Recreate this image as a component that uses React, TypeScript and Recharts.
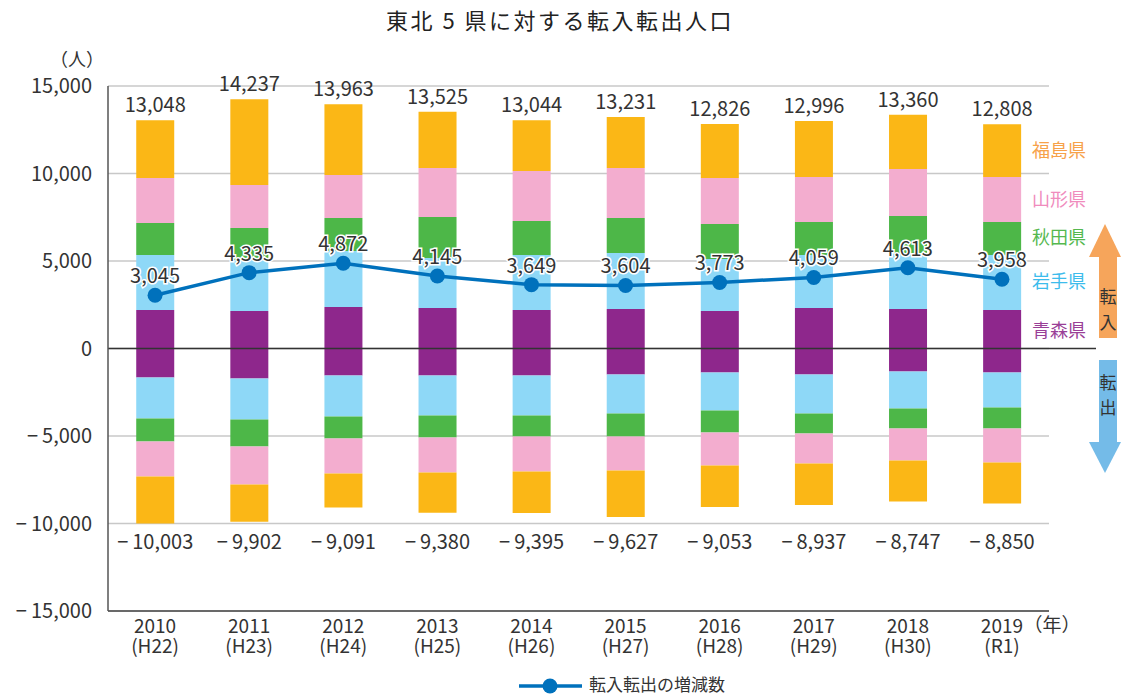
import React from 'react';
import { ComposedChart, Bar, Line, XAxis, YAxis, CartesianGrid, ReferenceLine, LabelList } from 'recharts';

const years = ['2010', '2011', '2012', '2013', '2014', '2015', '2016', '2017', '2018', '2019'];
const eras = ['(H22)', '(H23)', '(H24)', '(H25)', '(H26)', '(H27)', '(H28)', '(H29)', '(H30)', '(R1)'];

const inAomori = [2200, 2143, 2371, 2314, 2200, 2257, 2143, 2314, 2257, 2200];
const inIwate = [3143, 2914, 3200, 2857, 3143, 3200, 2971, 3029, 3200, 3143];
const inAkita = [1829, 1829, 1886, 2343, 1943, 2000, 2000, 1886, 2114, 1886];
const inYamagata = [2571, 2457, 2457, 2800, 2857, 2857, 2629, 2571, 2686, 2571];
const inFukushima = [3305, 4894, 4049, 3211, 2901, 2917, 3083, 3196, 3103, 3008];

const outAomori = [-1657, -1714, -1543, -1543, -1543, -1486, -1371, -1486, -1314, -1371];
const outIwate = [-2343, -2343, -2343, -2286, -2286, -2228, -2172, -2228, -2115, -2000];
const outAkita = [-1314, -1543, -1257, -1257, -1200, -1315, -1257, -1143, -1142, -1200];
const outYamagata = [-2000, -2171, -2000, -2000, -2000, -1942, -1886, -1714, -1829, -1943];
const outFukushima = [-2689, -2131, -1948, -2294, -2366, -2656, -2367, -2366, -2347, -2336];

const totalIn = [13048, 14237, 13963, 13525, 13044, 13231, 12826, 12996, 13360, 12808];
const totalOut = [-10003, -9902, -9091, -9380, -9395, -9627, -9053, -8937, -8747, -8850];
const netChange = [3045, 4335, 4872, 4145, 3649, 3604, 3773, 4059, 4613, 3958];

const yTicks = [-15000, -10000, -5000, 0, 5000, 10000, 15000];

const data = years.map((y, i) => ({
  year: y,
  era: eras[i],
  inAomori: inAomori[i],
  inIwate: inIwate[i],
  inAkita: inAkita[i],
  inYamagata: inYamagata[i],
  inFukushima: inFukushima[i],
  outAomori: outAomori[i],
  outIwate: outIwate[i],
  outAkita: outAkita[i],
  outYamagata: outYamagata[i],
  outFukushima: outFukushima[i],
  totalIn: totalIn[i],
  totalOut: totalOut[i],
  net: netChange[i],
}));

const W = 1121;
const H = 696;
const M = { top: 86, right: 72, bottom: 35, left: 0 };
const Y_AXIS_W = 108;
const X_AXIS_H = 50;
const PLOT_TOP = M.top;
const PLOT_H = H - M.top - M.bottom - X_AXIS_H;
const Y_MIN = -15000;
const Y_MAX = 15000;
const yPx = (v: number) => PLOT_TOP + ((Y_MAX - v) / (Y_MAX - Y_MIN)) * PLOT_H;

const FONT = "'Noto Sans CJK JP', 'Noto Sans', sans-serif";
const TXT = '#333333';

const C_AOMORI = '#8E278C';
const C_IWATE = '#8ED8F7';
const C_AKITA = '#4DB748';
const C_YAMAGATA = '#F3ADCF';
const C_FUKUSHIMA = '#FBB716';
const C_LINE = '#0071BC';

const fmt = (v: number) => (v < 0 ? '−\u2009' + Math.abs(v).toLocaleString('en-US') : v.toLocaleString('en-US'));

const TopLabel = (props: any) => {
  const { x, y, width, value } = props;
  return (
    <text x={x + width / 2} y={y - 8} textAnchor="middle" fontSize={20} fill={TXT} stroke="none" fontFamily={FONT}>
      {fmt(value)}
    </text>
  );
};

const BottomLabel = (props: any) => {
  const { x, width, value } = props;
  return (
    <text x={x + width / 2} y={yPx(-10000) + 25} textAnchor="middle" fontSize={20} fill={TXT} stroke="none" fontFamily={FONT}>
      {fmt(value)}
    </text>
  );
};

const NetLabel = (props: any) => {
  const { x, y, value } = props;
  return (
    <text
      x={x}
      y={y - 12}
      textAnchor="middle"
      fontSize={20}
      fill={TXT}
      stroke="#ffffff"
      strokeWidth={3}
      paintOrder="stroke"
      fontFamily={FONT}
    >
      {fmt(value)}
    </text>
  );
};

const renderXTick = (props: any) => {
  const { x, y, payload, index } = props;
  return (
    <g key={`xt-${index}`}>
      <text x={x} y={y + 14} textAnchor="middle" fontSize={19} fill={TXT} stroke="none" fontFamily={FONT}>
        {payload.value}
      </text>
      <text x={x} y={y + 34} textAnchor="middle" fontSize={19} fill={TXT} stroke="none" fontFamily={FONT}>
        {eras[index]}
      </text>
    </g>
  );
};

const prefLabels = [
  { name: '福島県', color: '#F7A24A', y: 157 },
  { name: '山形県', color: '#F08CBD', y: 206 },
  { name: '秋田県', color: '#55B84F', y: 244 },
  { name: '岩手県', color: '#3DBCEC', y: 288 },
  { name: '青森県', color: '#9A3F97', y: 337 },
];

export default function App() {
  return (
    <div style={{ position: 'absolute', left: 0, top: 0, width: W, height: H, background: '#fff' }}>
      <ComposedChart
        width={W}
        height={H}
        data={data}
        margin={M}
        stackOffset="sign"
        barCategoryGap="30%"
      >
        <CartesianGrid vertical={false} stroke="#c8c8c8" strokeWidth={1.5} />
        <XAxis
          dataKey="year"
          height={X_AXIS_H}
          tick={renderXTick}
          tickLine={false}
          axisLine={{ stroke: '#444', strokeWidth: 1.5 }}
          interval={0}
        />
        <YAxis
          width={Y_AXIS_W}
          domain={[Y_MIN, Y_MAX]}
          ticks={yTicks}
          tickFormatter={fmt}
          tickLine={false}
          tickMargin={10}
          axisLine={{ stroke: '#555', strokeWidth: 1.5 }}
          tick={{ fontSize: 20, fill: TXT, fontFamily: FONT }}
          interval={0}
        />
        <Bar dataKey="inAomori" stackId="s" fill={C_AOMORI} isAnimationActive={false} />
        <Bar dataKey="inIwate" stackId="s" fill={C_IWATE} isAnimationActive={false} />
        <Bar dataKey="inAkita" stackId="s" fill={C_AKITA} isAnimationActive={false} />
        <Bar dataKey="inYamagata" stackId="s" fill={C_YAMAGATA} isAnimationActive={false} />
        <Bar dataKey="inFukushima" stackId="s" fill={C_FUKUSHIMA} isAnimationActive={false}>
          <LabelList dataKey="totalIn" content={<TopLabel />} />
        </Bar>
        <Bar dataKey="outAomori" stackId="s" fill={C_AOMORI} isAnimationActive={false} />
        <Bar dataKey="outIwate" stackId="s" fill={C_IWATE} isAnimationActive={false} />
        <Bar dataKey="outAkita" stackId="s" fill={C_AKITA} isAnimationActive={false} />
        <Bar dataKey="outYamagata" stackId="s" fill={C_YAMAGATA} isAnimationActive={false} />
        <Bar dataKey="outFukushima" stackId="s" fill={C_FUKUSHIMA} isAnimationActive={false}>
          <LabelList dataKey="totalOut" content={<BottomLabel />} />
        </Bar>
        <ReferenceLine y={0} stroke="#333" strokeWidth={1.5} />
        <Line
          dataKey="net"
          stroke={C_LINE}
          strokeWidth={3.5}
          dot={{ r: 7.5, fill: C_LINE, stroke: C_LINE, strokeWidth: 0 }}
          activeDot={false}
          isAnimationActive={false}
        >
          <LabelList dataKey="net" content={<NetLabel />} />
        </Line>
      </ComposedChart>
      <svg
        width={W}
        height={H}
        style={{ position: 'absolute', left: 0, top: 0, pointerEvents: 'none' }}
        fontFamily={FONT}
      >
        <text x={560} y={29} textAnchor="middle" fontSize={22} letterSpacing={2.5} fill="#222">
          東北 5 県に対する転入転出人口
        </text>
        <text x={77} y={66} textAnchor="middle" fontSize={18} fill={TXT}>
          （人）
        </text>
        <text x={1052} y={632} textAnchor="middle" fontSize={19} fill={TXT}>
          （年）
        </text>
        <line x1={1049} x2={1096} y1={yPx(0)} y2={yPx(0)} stroke="#333" strokeWidth={1.5} />
        {prefLabels.map((p) => (
          <text key={p.name} x={1032} y={p.y} fontSize={18} fill={p.color}>
            {p.name}
          </text>
        ))}
        <polygon points="1089,257 1105,224 1121,257" fill="#F6A55B" />
        <rect x={1099} y={257} width={18} height={81} fill="#F6A55B" />
        <text x={1108} y={303} textAnchor="middle" fontSize={17} fill={TXT}>転</text>
        <text x={1108} y={329} textAnchor="middle" fontSize={17} fill={TXT}>入</text>
        <rect x={1099} y={360} width={18} height={82} fill="#74BBE8" />
        <polygon points="1089,442 1121,442 1105,473" fill="#74BBE8" />
        <text x={1108} y={389} textAnchor="middle" fontSize={17} fill={TXT}>転</text>
        <text x={1108} y={414} textAnchor="middle" fontSize={17} fill={TXT}>出</text>
        <line x1={519} x2={582} y1={686} y2={686} stroke={C_LINE} strokeWidth={3.5} />
        <circle cx={550} cy={686} r={7.5} fill={C_LINE} />
        <text x={589} y={691} fontSize={17} fill={TXT}>
          転入転出の増減数
        </text>
      </svg>
    </div>
  );
}
